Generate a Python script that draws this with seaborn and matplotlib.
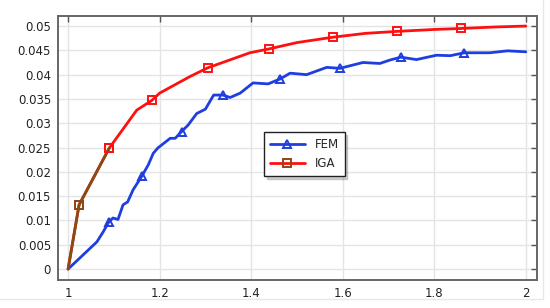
import numpy as np
import pandas as pd
import matplotlib
matplotlib.use("Agg")
import matplotlib.pyplot as plt
from matplotlib.lines import Line2D
import seaborn as sns

# FEM curve (wiggly) and IGA curve
fem_x = [1.0, 1.026, 1.063, 1.077, 1.089, 1.098, 1.109, 1.12, 1.13, 1.142,
         1.161, 1.175, 1.186, 1.196, 1.223, 1.234, 1.248, 1.262, 1.281, 1.3,
         1.318, 1.338, 1.354, 1.376, 1.404, 1.437, 1.463, 1.485, 1.521, 1.565,
         1.594, 1.644, 1.681, 1.703, 1.727, 1.761, 1.805, 1.835, 1.865, 1.921,
         1.96, 2.0]
fem_y = [0, 0.0023, 0.0056, 0.0077, 0.0097, 0.0105, 0.0102, 0.0132, 0.0138, 0.0163,
         0.0191, 0.0214, 0.0238, 0.0249, 0.0269, 0.0269, 0.0283, 0.0296, 0.032, 0.0329,
         0.0358, 0.0358, 0.0353, 0.0362, 0.0383, 0.0381, 0.0391, 0.0403, 0.040, 0.0415,
         0.0413, 0.0425, 0.0423, 0.043, 0.0436, 0.0431, 0.0440, 0.0439, 0.0445, 0.0445,
         0.0449, 0.0447]
fem_marks = [4, 10, 16, 21, 26, 30, 34, 38]

iga_x = [1.0, 1.024, 1.09, 1.15, 1.183, 1.2, 1.266, 1.305, 1.397, 1.439,
         1.5, 1.578, 1.65, 1.718, 1.8, 1.858, 1.93, 2.0]
iga_y = [0, 0.0132, 0.0249, 0.0327, 0.0347, 0.0362, 0.0396, 0.0414, 0.0445, 0.0453,
         0.0466, 0.0477, 0.0485, 0.0489, 0.0493, 0.0495, 0.0498, 0.0500]
iga_marks = [1, 2, 4, 7, 9, 11, 13, 15]

x_ticks = [1, 1.2, 1.4, 1.6, 1.8, 2]
x_labels = ["1", "1.2", "1.4", "1.6", "1.8", "2"]
y_ticks = [0, 0.005, 0.01, 0.015, 0.02, 0.025, 0.03, 0.035, 0.04, 0.045, 0.05]
y_labels = ["0", "0.005", "0.01", "0.015", "0.02", "0.025", "0.03", "0.035", "0.04", "0.045", "0.05"]

blue = "#1e3ee0"
red = "#ff1010"
brown = "#8a4a14"

sns.set_style("white")
plt.rcParams['font.family'] = ['DejaVu Sans']

fig = plt.figure(figsize=(5.5, 3.08), dpi=100)
ax = fig.add_axes([0.1055, 0.0909, 0.8705, 0.857])

mk = dict(markersize=6, markerfacecolor="none", markeredgewidth=1.4)
sns.lineplot(x=fem_x, y=fem_y, sort=False, ax=ax, color=blue, lw=2,
             marker="^", markevery=fem_marks, markeredgecolor=blue,
             label="FEM", **mk)
sns.lineplot(x=iga_x, y=iga_y, sort=False, ax=ax, color=red, lw=2,
             marker="s", markevery=iga_marks, markeredgecolor=red,
             label="IGA", **mk)
# first IGA segment drawn in brown as in the original
sns.lineplot(x=iga_x[:3], y=iga_y[:3], sort=False, ax=ax, color=brown, lw=2,
             marker="s", markevery=[1], markeredgecolor=brown,
             legend=False, **mk)
ax.plot(iga_x[2], iga_y[2], marker="s", ms=6, mfc="none", mec=red, mew=1.4)

ax.set_xlim(0.978, 2.024)
ax.set_ylim(-0.00226, 0.05206)
ax.set_xticks(x_ticks)
ax.set_xticklabels(x_labels)
ax.set_yticks(y_ticks)
ax.set_yticklabels(y_labels)
ax.grid(True, color="#e4e4e4", lw=1)
ax.tick_params(direction="in", length=4, width=1, colors="#555555",
               labelcolor="#222222", labelsize=8.5, top=True, right=True,
               labeltop=False, labelright=False, pad=5)
for s in ax.spines.values():
    s.set_color("#666666")
    s.set_linewidth(1.4)

ax.set_xlabel("")
ax.set_ylabel("")

leg = ax.legend(loc="upper left", bbox_to_anchor=(0.4175, 0.583),
                frameon=True, fancybox=False,
                shadow={"ox": 2, "oy": -2, "alpha": 0.25},
                fontsize=8.5, edgecolor="#222222", borderpad=0.5,
                handlelength=3.0, labelspacing=0.5)
leg.get_frame().set_linewidth(1.0)
leg.legend_handles[1].set_markeredgecolor(brown)

# faint outer frame of the original image
fig.add_artist(Line2D([0.988, 0.988], [0.03, 1.0], transform=fig.transFigure,
                      color="#e8e8e8", lw=1))
fig.add_artist(Line2D([0.0, 0.988], [0.03, 0.03], transform=fig.transFigure,
                      color="#e8e8e8", lw=1))

fig.savefig("out.png", dpi=100)
